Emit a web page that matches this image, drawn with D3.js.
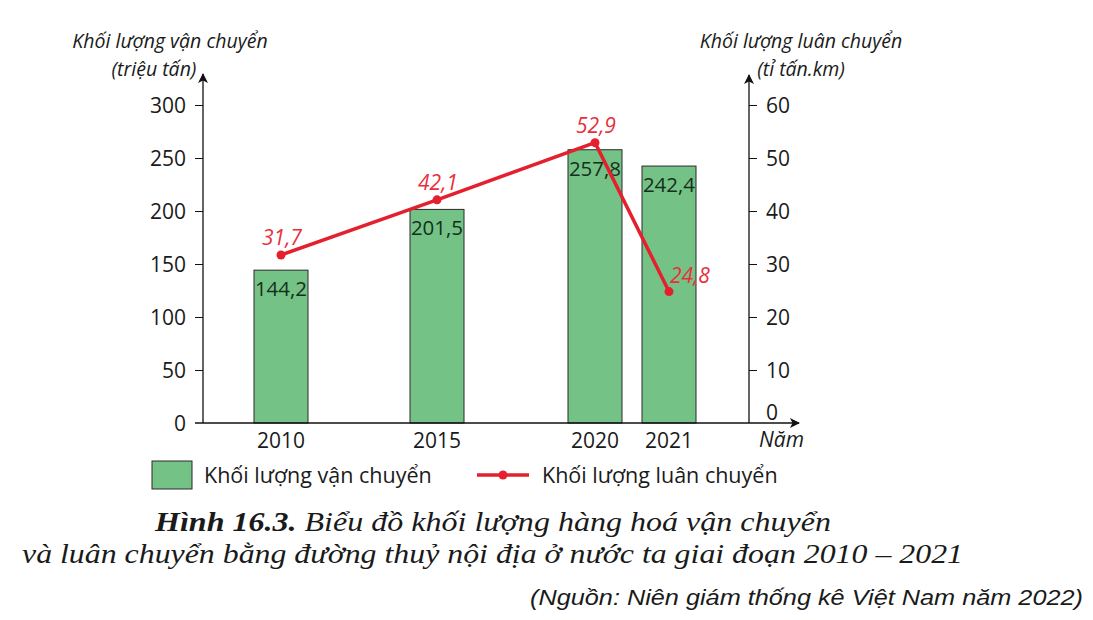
<!DOCTYPE html>
<html>
<head>
<meta charset="utf-8">
<script src="https://cdn.jsdelivr.net/npm/d3@7"></script>
<style>
  body { margin: 0; background: #fff; }
  text { font-family: "Open Sans", "Noto Sans", sans-serif; }
</style>
</head>
<body>
<div id="chart"></div>
<script>
// data
var years = [2010, 2015, 2020, 2021];
var vanChuyen = [144.2, 201.5, 257.8, 242.4];     // trieu tan
var luanChuyen = [31.7, 42.1, 52.9, 24.8];        // ti tan.km
var leftTicks = [0, 50, 100, 150, 200, 250, 300];
var rightTicks = [0, 10, 20, 30, 40, 50, 60];

var W = 1093, H = 620;
var svg = d3.select("#chart").append("svg").attr("width", W).attr("height", H);

var axisL = 203, axisR = 749, baseY = 423, topY = 105;
var fs = "21px";

// uneven spacing between years like the original
var x = d3.scaleLinear().domain([2010, 2015, 2020, 2021]).range([281, 437, 595, 669]);
var yL = d3.scaleLinear().domain([0, 300]).range([baseY, topY]);
var yR = d3.scaleLinear().domain([0, 60]).range([baseY, topY]);
var barW = 54;

var defs = svg.append("defs");
defs.append("marker").attr("id", "arr")
  .attr("viewBox", "0 0 10 10").attr("refX", 9).attr("refY", 5)
  .attr("markerWidth", 10).attr("markerHeight", 10).attr("markerUnits", "userSpaceOnUse")
  .attr("orient", "auto")
  .append("path").attr("d", "M0,0 L10,5 L0,10 L2.5,5 Z").attr("fill", "#111");

var data = years.map(function(y, i){ return {year: y, v: vanChuyen[i], l: luanChuyen[i]} });

// bars
svg.selectAll("rect.bar").data(data).enter().append("rect")
  .attr("class", "bar")
  .attr("x", function(d){ return x(d.year) - barW / 2 })
  .attr("y", function(d){ return yL(d.v) })
  .attr("width", barW)
  .attr("height", function(d){ return baseY - yL(d.v) })
  .style("fill", "#75c286")
  .style("stroke", "#2a2a2a")
  .style("stroke-width", 1);

svg.selectAll("text.barLabel").data(data).enter().append("text")
  .attr("class", "barLabel")
  .attr("x", function(d){ return x(d.year) })
  .attr("y", function(d){ return yL(d.v) + 26 })
  .attr("text-anchor", "middle")
  .style("font-size", "20.5px")
  .style("fill", "#14301c")
  .text(function(d){ return String(d.v).replace(".", ",") });

// axes (custom look: ticks outside, arrows)
var gL = svg.append("g").attr("transform", "translate(" + axisL + ",0)")
  .call(d3.axisLeft(yL).tickValues(leftTicks).tickSize(8).tickPadding(9));
var gR = svg.append("g").attr("transform", "translate(" + axisR + ",0)")
  .call(d3.axisRight(yR).tickValues(rightTicks).tickSize(8).tickPadding(9));
[gL, gR].forEach(function(g){
  g.select(".domain").remove();
  g.selectAll(".tick line").attr("stroke", "#111").attr("stroke-width", 1);
  g.selectAll(".tick text").style("font-size", fs).style("fill", "#1a1a1a")
    .style("font-family", "'Open Sans', sans-serif").attr("dy", "0.35em");
});
gL.selectAll(".tick").filter(function(d){ return d === 0 }).select("line").remove();
gR.selectAll(".tick").filter(function(d){ return d === 0 }).select("line").remove();
gR.selectAll(".tick").filter(function(d){ return d === 0 }).select("text").attr("y", -11);

svg.append("line").attr("x1", axisL).attr("x2", axisL).attr("y1", baseY).attr("y2", 74)
  .attr("stroke", "#111").attr("stroke-width", 1.3).attr("marker-end", "url(#arr)");
svg.append("line").attr("x1", axisR).attr("x2", axisR).attr("y1", baseY).attr("y2", 75)
  .attr("stroke", "#111").attr("stroke-width", 1.3).attr("marker-end", "url(#arr)");
svg.append("line").attr("x1", 195).attr("x2", 799).attr("y1", baseY).attr("y2", baseY)
  .attr("stroke", "#111").attr("stroke-width", 1.3).attr("marker-end", "url(#arr)");

// x labels
svg.selectAll("text.xLabel").data(years).enter().append("text")
  .attr("class", "xLabel")
  .attr("x", function(d){ return x(d) })
  .attr("y", 448)
  .attr("text-anchor", "middle")
  .style("font-size", fs).style("fill", "#1a1a1a")
  .text(function(d){ return d });
svg.append("text").attr("x", 759).attr("y", 447)
  .style("font-size", fs).style("font-style", "italic").style("fill", "#1a1a1a")
  .text("Năm");

// axis titles
function title(xp, yp, s){
  svg.append("text").attr("x", xp).attr("y", yp).attr("text-anchor", "middle")
    .style("font-size", "19.5px").style("font-style", "italic").style("fill", "#1a1a1a").text(s);
}
title(170, 48, "Khối lượng vận chuyển");
title(154, 76, "(triệu tấn)");
title(801, 48, "Khối lượng luân chuyển");
title(801, 76, "(tỉ tấn.km)");

// line
var red = "#e5202e";
var line = d3.line().x(function(d){ return x(d.year) }).y(function(d){ return yR(d.l) });
svg.append("path").datum(data).attr("d", line)
  .attr("fill", "none").attr("stroke", red).attr("stroke-width", 3.5).attr("stroke-linejoin", "round");
svg.selectAll("circle.dot").data(data).enter().append("circle")
  .attr("class", "dot")
  .attr("cx", function(d){ return x(d.year) })
  .attr("cy", function(d){ return yR(d.l) })
  .attr("r", 4.5).attr("fill", red);
svg.selectAll("text.lineLabel").data(data).enter().append("text")
  .attr("class", "lineLabel")
  .attr("x", function(d, i){ return x(d.year) + 1 })
  .attr("y", function(d, i){ return i === 3 ? yR(d.l) - 9 : yR(d.l) - 10 })
  .attr("text-anchor", function(d, i){ return i === 3 ? "start" : "middle" })
  .style("font-size", fs).style("font-style", "italic").style("fill", "#e8303c")
  .text(function(d){ return String(d.l).replace(".", ",") });

// legend
svg.append("rect").attr("x", 152).attr("y", 461).attr("width", 40).attr("height", 28)
  .style("fill", "#75c286").style("stroke", "#2a2a2a").style("stroke-width", 1);
svg.append("text").attr("x", 204).attr("y", 483).style("font-size", "21.5px").style("fill", "#1a1a1a")
  .text("Khối lượng vận chuyển");
svg.append("line").attr("x1", 477).attr("x2", 529).attr("y1", 475).attr("y2", 475)
  .attr("stroke", red).attr("stroke-width", 3.5);
svg.append("circle").attr("cx", 503).attr("cy", 475).attr("r", 4.5).attr("fill", red);
svg.append("text").attr("x", 542).attr("y", 483).style("font-size", "21.5px").style("fill", "#1a1a1a")
  .text("Khối lượng luân chuyển");

// caption
var cap1 = svg.append("text").attr("x", 155).attr("y", 531)
  .attr("textLength", 676).attr("lengthAdjust", "spacingAndGlyphs")
  .style("font-family", "'Liberation Serif', serif").style("font-size", "28px")
  .style("font-style", "italic").style("fill", "#1a1a1a");
cap1.append("tspan").style("font-weight", "bold").text("Hình 16.3.");
cap1.append("tspan").text(" Biểu đồ khối lượng hàng hoá vận chuyển");
svg.append("text").attr("x", 22).attr("y", 563)
  .attr("textLength", 941).attr("lengthAdjust", "spacingAndGlyphs")
  .style("font-family", "'Liberation Serif', serif").style("font-size", "28px")
  .style("font-style", "italic").style("fill", "#1a1a1a")
  .text("và luân chuyển bằng đường thuỷ nội địa ở nước ta giai đoạn 2010 – 2021");
svg.append("text").attr("x", 530).attr("y", 605)
  .attr("textLength", 553).attr("lengthAdjust", "spacingAndGlyphs")
  .style("font-family", "'Liberation Sans Narrow', 'Liberation Sans', sans-serif").style("font-size", "22px")
  .style("font-style", "italic").style("fill", "#1a1a1a")
  .text("(Nguồn: Niên giám thống kê Việt Nam năm 2022)");
</script>
</body>
</html>
